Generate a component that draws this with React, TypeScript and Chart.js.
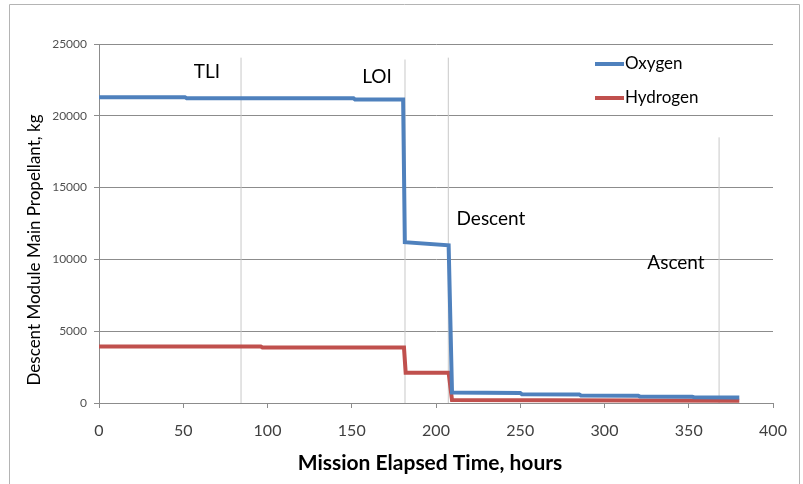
import React, { useEffect, useRef } from "react";
import { Chart, registerables } from "chart.js";

Chart.register(...registerables);

// ---- data ----
const oxygenHours = [0, 51, 52, 151, 152, 180.5, 181.5, 207.5, 209.5, 250, 251, 285, 286, 320, 321, 352, 353, 380];
const oxygenKg = [21300, 21300, 21230, 21230, 21130, 21130, 11200, 10980, 730, 700, 610, 600, 530, 510, 450, 440, 400, 390];

const hydrogenHours = [0, 96, 97, 181, 182, 207.5, 209.5, 380];
const hydrogenKg = [3930, 3930, 3860, 3860, 2110, 2100, 210, 160];

const eventNames = ["TLI", "LOI", "Descent", "Ascent"];
const eventHours = [84.3, 181.6, 207.3, 368];
const eventLineTopKg = [24050, 23920, 24050, 18500];
const eventLabelHours = [64, 165, 232.6, 342.4];
const eventLabelKg = [23080, 22730, 12830, 9760];

const xTickMin = 0;
const xTickMax = 400;
const xTickStep = 50;
const yTickMin = 0;
const yTickMax = 25000;
const yTickStep = 5000;

const xTitle = "Mission Elapsed Time, hours";
const yTitle = "Descent Module Main Propellant, kg";

const FONT = "Lato, 'Noto Sans', sans-serif";
const OXY = "#4F81BD";
const HYD = "#C0504D";

const overlayPlugin = {
  id: "overlay",
  beforeDraw(chart: any) {
    const ctx = chart.ctx;
    ctx.save();
    ctx.strokeStyle = "#b4b4b4";
    ctx.lineWidth = 1;
    ctx.beginPath();
    ctx.moveTo(9.5, 500);
    ctx.lineTo(9.5, 4.5);
    ctx.lineTo(799.5, 4.5);
    ctx.lineTo(799.5, 500);
    ctx.stroke();
    ctx.restore();
  },
  afterDraw(chart: any) {
    const ctx = chart.ctx;
    const xs = chart.scales.x;
    const ys = chart.scales.y;
    ctx.save();
    ctx.fillStyle = "#000";
    ctx.textAlign = "center";
    ctx.textBaseline = "middle";
    // event labels
    ctx.font = `19px ${FONT}`;
    eventNames.forEach((n, i) => {
      ctx.fillText(n, xs.getPixelForValue(eventLabelHours[i]), ys.getPixelForValue(eventLabelKg[i]));
    });
    // axis titles
    ctx.font = `bold 21px ${FONT}`;
    ctx.fillText(xTitle, 430, 463);
    ctx.save();
    ctx.translate(35, 250);
    ctx.rotate(-Math.PI / 2);
    ctx.font = `17px ${FONT}`;
    ctx.fillText(yTitle, 0, 0);
    ctx.restore();
    // legend
    const items = [
      { label: chart.data.datasets[0].label, color: OXY, y: 64 },
      { label: chart.data.datasets[1].label, color: HYD, y: 98 },
    ];
    ctx.font = `17px ${FONT}`;
    ctx.textAlign = "left";
    items.forEach((it) => {
      ctx.strokeStyle = it.color;
      ctx.lineWidth = 4;
      ctx.beginPath();
      ctx.moveTo(595, it.y);
      ctx.lineTo(624, it.y);
      ctx.stroke();
      ctx.fillStyle = "#000";
      ctx.fillText(it.label, 625, it.y);
    });
    ctx.restore();
  },
};

export default function App() {
  const ref = useRef<HTMLCanvasElement>(null);
  useEffect(() => {
    if (!ref.current) return;
    const eventSets = eventHours.map((h, i) => ({
      label: "_" + eventNames[i],
      data: [
        { x: h, y: 0 },
        { x: h, y: eventLineTopKg[i] },
      ],
      borderColor: "#c8c8c8",
      borderWidth: 1,
      pointRadius: 0,
      order: 10,
    }));
    const chart = new Chart(ref.current, {
      type: "line",
      data: {
        datasets: [
          {
            label: "Oxygen",
            data: oxygenHours.map((h, i) => ({ x: h, y: oxygenKg[i] })),
            borderColor: OXY,
            backgroundColor: OXY,
            borderWidth: 4,
            pointRadius: 0,
            order: 1,
          },
          {
            label: "Hydrogen",
            data: hydrogenHours.map((h, i) => ({ x: h, y: hydrogenKg[i] })),
            borderColor: HYD,
            backgroundColor: HYD,
            borderWidth: 4,
            pointRadius: 0,
            order: 2,
          },
          ...eventSets,
        ] as any,
      },
      options: {
        animation: false,
        responsive: true,
        maintainAspectRatio: false,
        layout: { padding: { top: 44, right: 30, left: 0, bottom: 0 } },
        plugins: { legend: { display: false }, tooltip: { enabled: false } },
        scales: {
          x: {
            type: "linear",
            min: xTickMin,
            max: xTickMax,
            afterFit(s: any) {
              s.height = 81;
            },
            ticks: {
              stepSize: xTickStep,
              padding: 13,
              color: "#404040",
              font: { family: FONT, size: 16 },
              maxRotation: 0,
              callback: (v: any) => String(v),
            },
            grid: {
              drawOnChartArea: false,
              drawTicks: true,
              tickLength: 5,
              color: "#8c8c8c",
            },
            border: { color: "#8c8c8c" },
          },
          y: {
            type: "linear",
            min: yTickMin,
            max: yTickMax,
            afterFit(s: any) {
              s.width = 99;
            },
            ticks: {
              stepSize: yTickStep,
              padding: 7,
              color: "#505050",
              font: { family: FONT, size: 12 },
              callback: (v: any) => String(v),
            },
            grid: {
              color: "#8c8c8c",
              tickLength: 5,
            },
            border: { color: "#8c8c8c" },
          },
        },
      } as any,
      plugins: [overlayPlugin],
    });
    return () => chart.destroy();
  }, []);
  return (
    <div style={{ position: "fixed", left: 0, top: 0, width: 803, height: 484, background: "#fff" }}>
      <canvas ref={ref} />
    </div>
  );
}
